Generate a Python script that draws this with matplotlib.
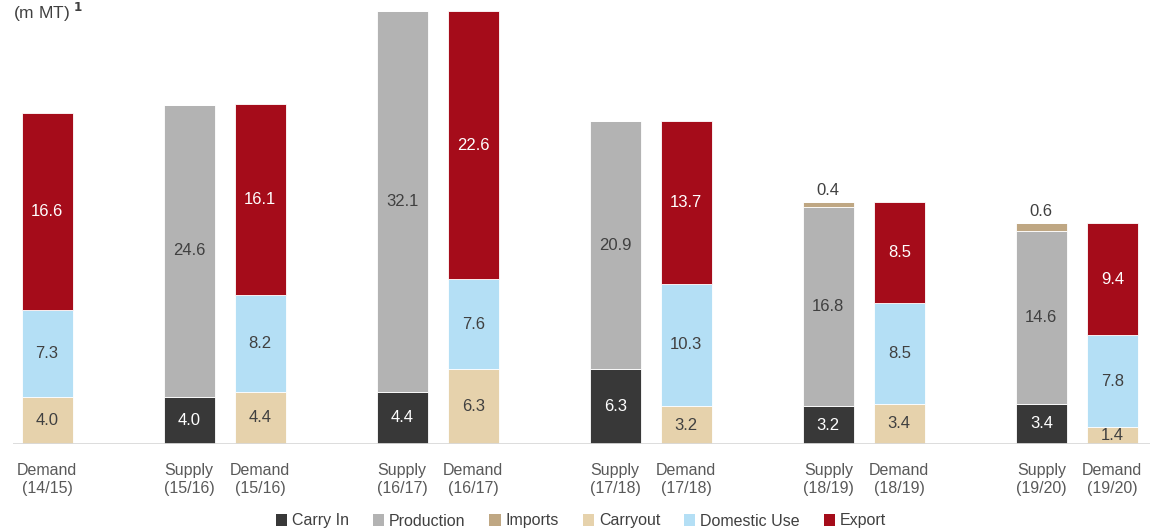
import matplotlib
matplotlib.use("Agg")
import matplotlib.pyplot as plt
from matplotlib.patches import Patch
import numpy as np

plt.rcParams["font.family"] = ["Liberation Sans", "DejaVu Sans"]

# bar labels and slot positions (gaps between crop years)
bar_labels = ["Demand\n(14/15)",
              "Supply\n(15/16)", "Demand\n(15/16)",
              "Supply\n(16/17)", "Demand\n(16/17)",
              "Supply\n(17/18)", "Demand\n(17/18)",
              "Supply\n(18/19)", "Demand\n(18/19)",
              "Supply\n(19/20)", "Demand\n(19/20)"]
slots = [0, 2, 3, 5, 6, 8, 9, 11, 12, 14, 15]

series = ["Carry In", "Production", "Imports", "Carryout", "Domestic Use", "Export"]
carry_in = [0, 4.0, 0, 4.4, 0, 6.3, 0, 3.2, 0, 3.4, 0]
production = [0, 24.6, 0, 32.1, 0, 20.9, 0, 16.8, 0, 14.6, 0]
imports = [0, 0, 0, 0, 0, 0, 0, 0.4, 0, 0.6, 0]
carryout = [4.0, 0, 4.4, 0, 6.3, 0, 3.2, 0, 3.4, 0, 1.4]
domestic = [7.3, 0, 8.2, 0, 7.6, 0, 10.3, 0, 8.5, 0, 7.8]
export = [16.6, 0, 16.1, 0, 22.6, 0, 13.7, 0, 8.5, 0, 9.4]

colors = ["#383838", "#b3b3b3", "#bfa783", "#e6d2ac", "#b4dff5", "#a50c1a"]
text_colors = ["white", "#404040", "#404040", "#404040", "#404040", "white"]

W, H = 1154, 531
fig = plt.figure(figsize=(W / 100, H / 100), dpi=100)
ax = fig.add_axes([13 / W, 87 / H, (1150 - 13) / W, 444 / H])

x = np.array(slots, dtype=float)
bottom = np.zeros(len(slots))
for name, vals, col, tcol in zip(series, [carry_in, production, imports, carryout, domestic, export],
                                 colors, text_colors):
    vals = np.array(vals, dtype=float)
    ax.bar(x, vals, width=0.72, bottom=bottom, color=col, edgecolor="white", linewidth=0.6)
    for xi, b, v in zip(x, bottom, vals):
        if v <= 0:
            continue
        if name == "Imports":
            ax.text(xi, b + v + 0.35, f"{v:.1f}", ha="center", va="bottom", fontsize=12, color="#404040")
        else:
            ax.text(xi, b + v / 2, f"{v:.1f}", ha="center", va="center", fontsize=12, color=tcol)
    bottom += vals

ax.set_xlim(-0.48, 15.53)
ax.set_ylim(0, 444 / 11.86)
ax.axhline(0, color="#d9d9d9", linewidth=2.0)
for s in ax.spines.values():
    s.set_visible(False)
ax.set_yticks([])
ax.set_xticks(x)
ax.set_xticklabels(bar_labels, fontsize=11.5, color="#595959", linespacing=1.2)
ax.tick_params(axis="x", length=0, pad=14)

fig.text(13 / W, 1 - 1 / H, "(m MT) $^\\mathbf{1}$", ha="left", va="top", fontsize=12.5, color="#404040")

handles = [Patch(facecolor=c, edgecolor="none") for c in colors]
fig.legend(handles, series, loc="center", bbox_to_anchor=(581 / W, 1 - 521 / H), ncol=6,
           frameon=False, fontsize=11.5, handlelength=0.7, handleheight=0.7,
           handletextpad=0.3, columnspacing=1.5, labelcolor="#404040")

fig.savefig("out.png", dpi=100)
